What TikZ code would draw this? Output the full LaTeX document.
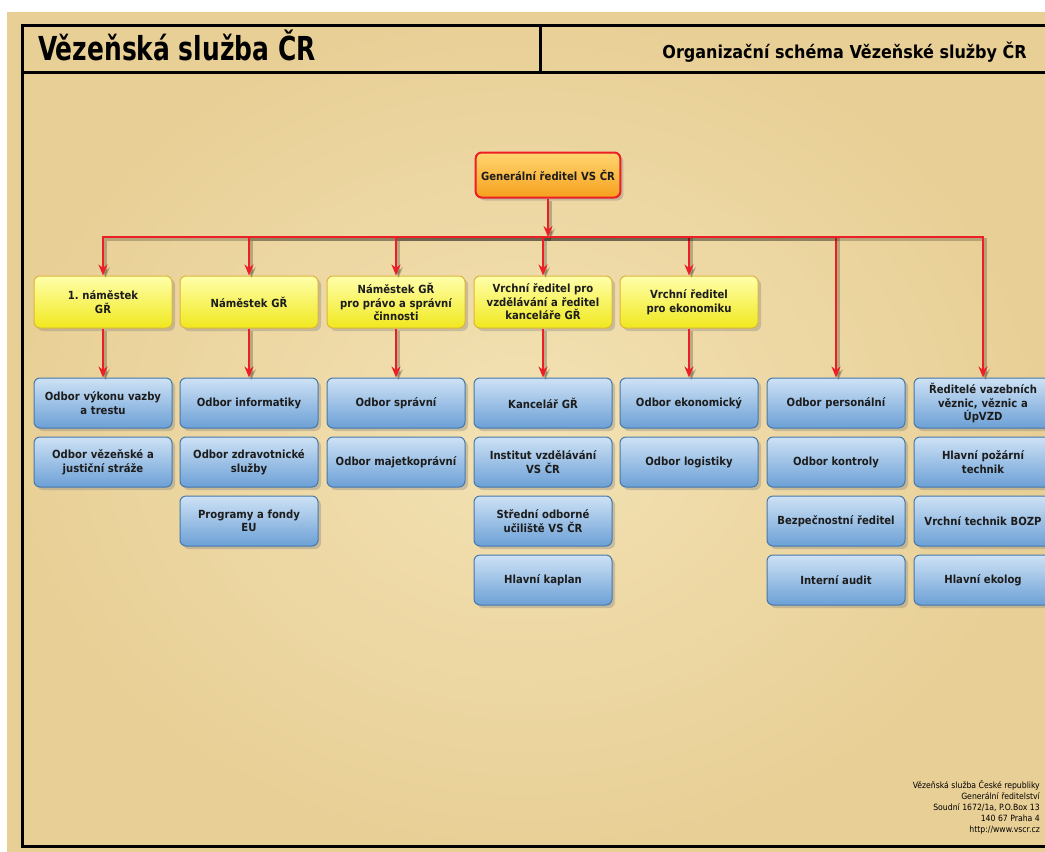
\documentclass[tikz,border=0pt]{standalone}
\usepackage{fontspec}
\setmainfont{DejaVu Sans Condensed}[BoldFont={DejaVu Sans Condensed Bold}]
\usetikzlibrary{arrows,arrows.meta,calc,positioning,shadows}
\definecolor{paper}{RGB}{243,226,180}
\definecolor{paperdark}{RGB}{232,207,150}
\definecolor{linered}{RGB}{236,30,38}
\definecolor{textdark}{RGB}{28,28,28}

\begin{document}
\begin{tikzpicture}[->,>={Stealth[length=11pt,width=9pt]},x=1pt,y=-1pt,line width=2.4pt,node distance=59pt,
font=\bfseries\fontsize{11.2}{13.5}\selectfont,text=textdark]
\tikzstyle{box}=[rounded corners=6pt,minimum width=138pt,minimum height=50pt,text width=130pt,align=center,line width=1pt,drop shadow={shadow xshift=3pt,shadow yshift=-3pt,opacity=0.35}]
\tikzstyle{chief}=[box,minimum width=144pt,minimum height=45pt,text width=138pt,draw=linered,line width=2pt,top color={rgb,255:red,255;green,214;blue,112},bottom color={rgb,255:red,246;green,160;blue,30}]
\tikzstyle{deputy}=[box,minimum height=52pt,draw={rgb,255:red,222;green,180;blue,60},top color={rgb,255:red,255;green,255;blue,170},middle color={rgb,255:red,255;green,247;blue,40},bottom color={rgb,255:red,240;green,232;blue,30}]
\tikzstyle{dept}=[box,draw={rgb,255:red,70;green,120;blue,170},top color={rgb,255:red,206;green,226;blue,245},middle color={rgb,255:red,146;green,190;blue,232},bottom color={rgb,255:red,108;green,160;blue,214}]
\tikzstyle{link}=[draw=linered,preaction={draw=black,opacity=0.22,transform canvas={shift={(2.5pt,-2.5pt)}}}]

\useasboundingbox (0,0) rectangle (1045,852);
\clip (0,0) rectangle (1045,852);
\fill[-,white] (0,0) rectangle (1045,852);
\fill[-,inner color=paper,outer color=paperdark] (7,12) rectangle (1045,852);
\draw[-,line width=3pt,black] (22,25) rectangle (1070,846);
\draw[-,line width=3pt,black] (22,72) -- (1070,72);
\draw[-,line width=3pt,black] (540,25) -- (540,72);

\node[anchor=base west,inner sep=0pt,font=\bfseries\fontsize{33}{33}\selectfont,text=black] (title) at (37,60) {\scalebox{0.84}[1]{Vězeňská služba ČR}};
\node[anchor=base east,inner sep=0pt,font=\bfseries\fontsize{17.8}{17.8}\selectfont,text=black] (subtitle) at (1028,58) {Organizační schéma Vězeňské služby ČR};

\node[chief] (general) at (548,175) {Generální ředitel VS ČR};
\coordinate (bus) at (548,237);

\node[deputy] (first) at (103,302) {1.\ náměstek\\GŘ};
\node[deputy] (deputy) at (249,302) {Náměstek GŘ};
\node[deputy] (legal) at (396,302) {Náměstek GŘ\\pro právo a správní\\činnosti};
\node[deputy] (education) at (543,302) {Vrchní ředitel pro\\vzdělávání a ředitel\\kanceláře GŘ};
\node[deputy] (economy) at (689,302) {Vrchní ředitel\\pro ekonomiku};

\node[dept] (custody) at (103,403) {Odbor výkonu vazby\\a trestu};
\node[dept] (guard) [below of=custody] {Odbor vězeňské a\\justiční stráže};

\node[dept] (it) at (249,403) {Odbor informatiky};
\node[dept] (health) [below of=it] {Odbor zdravotnické\\služby};
\node[dept] (funds) [below of=health] {Programy a fondy\\EU};

\node[dept] (admin) at (396,403) {Odbor správní};
\node[dept] (property) [below of=admin] {Odbor majetkoprávní};

\node[dept] (office) at (543,403) {Kancelář GŘ};
\node[dept] (institute) [below of=office] {Institut vzdělávání\\VS ČR};
\node[dept] (school) [below of=institute] {Střední odborné\\učiliště VS ČR};
\node[dept] (chaplain) [below of=school] {Hlavní kaplan};

\node[dept] (finance) at (689,403) {Odbor ekonomický};
\node[dept] (logistics) [below of=finance] {Odbor logistiky};

\node[dept] (personnel) at (836,403) {Odbor personální};
\node[dept] (control) [below of=personnel] {Odbor kontroly};
\node[dept] (security) [below of=control] {Bezpečnostní ředitel};
\node[dept] (audit) [below of=security] {Interní audit};

\node[dept] (wardens) at (983,403) {Ředitelé vazebních\\věznic, věznic a\\ÚpVZD};
\node[dept] (fire) [below of=wardens] {Hlavní požární\\technik};
\node[dept] (safety) [below of=fire] {Vrchní technik BOZP};
\node[dept] (ecology) [below of=safety] {Hlavní ekolog};

\node[anchor=east,align=right,inner sep=0pt,font=\mdseries\fontsize{8.6}{11}\selectfont,text=black] (address) at (1041,807) {Vězeňská služba České republiky\\Generální ředitelství\\Soudní 1672/1a, P.O.Box 13\\140 67 Praha 4\\http://www.vscr.cz};

\draw[link] (general) -- (bus);
\draw[link] (bus) -| (first);
\draw[link] (bus) -| (deputy);
\draw[link] (bus) -| (legal);
\draw[link] (bus) -| (education);
\draw[link] (bus) -| (economy);
\draw[link] (bus) -| (personnel);
\draw[link] (bus) -| (wardens);
\draw[link] (first) -- (custody);
\draw[link] (deputy) -- (it);
\draw[link] (legal) -- (admin);
\draw[link] (education) -- (office);
\draw[link] (economy) -- (finance);
\end{tikzpicture}
\end{document}
